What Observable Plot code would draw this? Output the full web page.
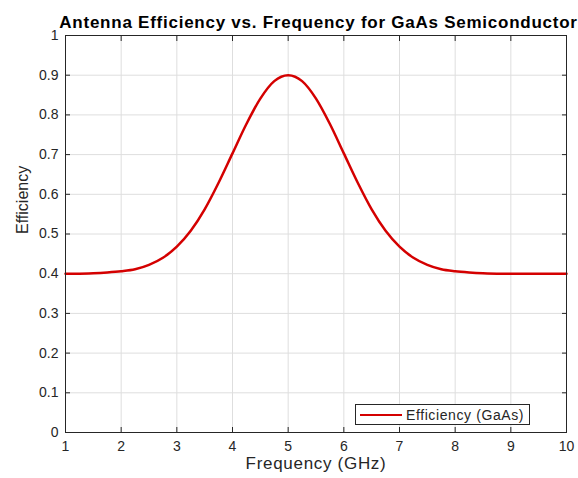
<!DOCTYPE html>
<html>
<head>
<meta charset="utf-8">
<script src="https://cdn.jsdelivr.net/npm/d3@7"></script>
<script src="https://cdn.jsdelivr.net/npm/@observablehq/plot@0.6"></script>
<style>
  html, body { margin: 0; padding: 0; background: #fff; }
  #wrap { position: relative; width: 578px; height: 478px; overflow: hidden; font-family: "Liberation Sans", Arial, sans-serif; }
  #legend { position: absolute; left: 355px; top: 404px; width: 175px; height: 21px; border: 1px solid #262626; background: #fff; display: flex; align-items: center; box-sizing: border-box; }
  #legend .sw { width: 42px; height: 0; border-top: 2.5px solid #d40000; margin-left: 4px; margin-right: 4px; }
  #legend .lb { font-size: 14px; letter-spacing: 0.6px; color: #262626; white-space: nowrap; }
</style>
</head>
<body>
<div id="wrap"></div>
<script>
// Frequency (GHz) and efficiency values
const frequency = [1, 1.25, 1.5, 1.75, 2, 2.25, 2.5, 2.75, 3, 3.25, 3.5, 3.75, 4, 4.25, 4.5, 4.75, 5,
                   5.25, 5.5, 5.75, 6, 6.25, 6.5, 6.75, 7, 7.25, 7.5, 7.75, 8, 8.25, 8.5, 8.75, 9, 9.25, 9.5, 9.75, 10];
const efficiency = [0.400, 0.400, 0.401, 0.403, 0.406, 0.411, 0.422, 0.440, 0.468, 0.508, 0.562, 0.629, 0.703, 0.777, 0.841, 0.885, 0.900,
                    0.885, 0.841, 0.777, 0.703, 0.629, 0.562, 0.508, 0.468, 0.440, 0.422, 0.411, 0.406, 0.403, 0.401, 0.400, 0.400, 0.400, 0.400, 0.400, 0.400];
const xTicks = [1, 2, 3, 4, 5, 6, 7, 8, 9, 10];
const yTicks = [0, 0.1, 0.2, 0.3, 0.4, 0.5, 0.6, 0.7, 0.8, 0.9, 1];
const titleText = "Antenna Efficiency vs. Frequency for GaAs Semiconductor";
const xLabel = "Frequency (GHz)";
const yLabel = "Efficiency";
const seriesName = "Efficiency (GaAs)";

const data = frequency.map((f, i) => ({f, e: efficiency[i]}));
const axisColor = "#262626";

const chart = Plot.plot({
  width: 578,
  height: 478,
  marginLeft: 65,
  marginRight: 12,
  marginTop: 35,
  marginBottom: 46,
  style: {fontFamily: "'Liberation Sans', Arial, sans-serif", color: axisColor, background: "#fff", overflow: "visible"},
  x: {domain: [1, 10]},
  y: {domain: [0, 1]},
  marks: [
    Plot.gridX(xTicks, {stroke: "#dedede", strokeOpacity: 1}),
    Plot.gridY(yTicks, {stroke: "#dedede", strokeOpacity: 1}),
    Plot.axisX(xTicks, {anchor: "bottom", tickSize: 0, tickPadding: 9, fontSize: 14, label: null, tickFormat: d => String(d), fill: axisColor}),
    Plot.axisY(yTicks, {anchor: "left", tickSize: 0, tickPadding: 7, fontSize: 14, label: null, tickFormat: d => String(d), fill: axisColor}),
    Plot.axisX(xTicks, {anchor: "bottom", tickSize: -5, text: null, label: null, stroke: axisColor}),
    Plot.axisX(xTicks, {anchor: "top", tickSize: -5, text: null, label: null, stroke: axisColor}),
    Plot.axisY(yTicks, {anchor: "left", tickSize: -5, text: null, label: null, stroke: axisColor}),
    Plot.axisY(yTicks, {anchor: "right", tickSize: -5, text: null, label: null, stroke: axisColor}),
    Plot.line(data, {x: "f", y: "e", stroke: "#d40000", strokeWidth: 2.5, curve: "monotone-x"}),
    Plot.frame({stroke: axisColor, strokeWidth: 1}),
    Plot.text([titleText], {frameAnchor: "top", dx: 2.5, dy: -20, fontSize: 17, fontWeight: "bold", fill: "#000"}),
    Plot.text([xLabel], {frameAnchor: "bottom", dy: 36, fontSize: 17, fill: axisColor}),
    Plot.text([yLabel], {frameAnchor: "left", dx: -43, rotate: -90, fontSize: 16, fill: axisColor})
  ]
});

// Letter spacing to match the wider glyph rendering of the reference
d3.select(chart).selectAll("text").each(function() {
  const t = this.textContent;
  if (t === titleText) this.style.letterSpacing = "0.75px";
  if (t === xLabel) this.style.letterSpacing = "0.7px";
});

const wrap = document.getElementById("wrap");
wrap.appendChild(chart);
const legend = document.createElement("div");
legend.id = "legend";
legend.innerHTML = `<div class="sw"></div><div class="lb"></div>`;
legend.querySelector(".lb").textContent = seriesName;
wrap.appendChild(legend);
</script>
</body>
</html>
